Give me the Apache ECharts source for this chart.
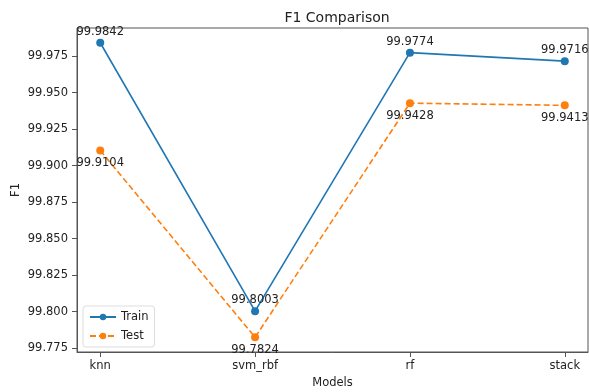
<!DOCTYPE html>
<html>
<head>
<meta charset="utf-8">
<script src="https://cdn.jsdelivr.net/npm/echarts@6/dist/echarts.min.js"></script>
<style>html,body{margin:0;padding:0;background:#fff}#c{width:589px;height:392px}</style>
</head>
<body>
<div id="c"></div>
<script>
const categories = ['knn', 'svm_rbf', 'rf', 'stack'];
const trainValues = [99.9842, 99.8003, 99.9774, 99.9716];
const testValues = [99.9104, 99.7824, 99.9428, 99.9413];
const yTicks = [99.775, 99.800, 99.825, 99.850, 99.875, 99.900, 99.925, 99.950, 99.975];

const font = 'DejaVu Sans';
const chart = echarts.init(document.getElementById('c'), null, {renderer: 'canvas'});
const toPts = arr => arr.map((v, i) => [i, v]);
chart.setOption({
  animation: false,
  backgroundColor: '#fff',
  textStyle: {fontFamily: font},
  title: {
    text: 'F1 Comparison', left: 332, top: 6, textAlign: 'center',
    textStyle: {fontFamily: font, fontSize: 14, fontWeight: 'normal', color: '#222'}
  },
  grid: {left: 77, right: 1, top: 28, bottom: 40, containLabel: false, outerBoundsMode: 'none',
    show: true, borderColor: '#555', borderWidth: 1, backgroundColor: 'transparent'},
  legend: {
    left: 83, top: 306, orient: 'vertical', itemGap: 7, itemWidth: 26, itemHeight: 8,
    borderColor: '#ddd', borderWidth: 1, borderRadius: 3, padding: [5, 6, 5, 6], backgroundColor: '#fff',
    textStyle: {fontFamily: font, fontSize: 11.5, color: '#222'},
    data: ['Train', 'Test']
  },
  xAxis: {
    type: 'value', min: -0.15, max: 3.15,
    name: 'Models', nameLocation: 'middle', nameGap: 25, nameMoveOverlap: false,
    nameTextStyle: {fontFamily: font, fontSize: 11.5, color: '#222'},
    splitLine: {show: false},
    axisLine: {show: true, onZero: false, lineStyle: {color: '#555'}},
    axisTick: {show: true, length: 5, customValues: [0, 1, 2, 3], lineStyle: {color: '#555'}},
    axisLabel: {customValues: [0, 1, 2, 3], formatter: v => categories[Math.round(v)], fontFamily: font, fontSize: 11.5, color: '#222', margin: 8}
  },
  yAxis: {
    type: 'value', min: 99.7723, max: 99.9943,
    name: 'F1', nameLocation: 'middle', nameGap: 55, nameRotate: 90, nameMoveOverlap: false,
    nameTextStyle: {fontFamily: font, fontSize: 11.5, color: '#222'},
    splitLine: {show: false},
    axisLine: {show: true, onZero: false, lineStyle: {color: '#555'}},
    axisTick: {show: true, length: 5, customValues: yTicks, lineStyle: {color: '#555'}},
    axisLabel: {customValues: yTicks, formatter: v => v.toFixed(3), fontFamily: font, fontSize: 11.5, color: '#222', margin: 9}
  },
  series: [
    {
      name: 'Train', type: 'line', data: toPts(trainValues),
      color: '#1f77b4', symbol: 'circle', symbolSize: 8,
      lineStyle: {width: 1.6, color: '#1f77b4'}, itemStyle: {color: '#1f77b4'},
      label: {show: true, position: 'top', distance: 1, formatter: p => p.value[1].toFixed(4), fontFamily: font, fontSize: 11.5, color: '#222'}
    },
    {
      name: 'Test', type: 'line', data: toPts(testValues),
      color: '#ff7f0e', symbol: 'circle', symbolSize: 8,
      lineStyle: {width: 1.6, color: '#ff7f0e', type: [6, 3]}, itemStyle: {color: '#ff7f0e'},
      label: {show: true, position: 'bottom', distance: 3, formatter: p => p.value[1].toFixed(4), fontFamily: font, fontSize: 11.5, color: '#222'}
    }
  ]
});
</script>
</body>
</html>
